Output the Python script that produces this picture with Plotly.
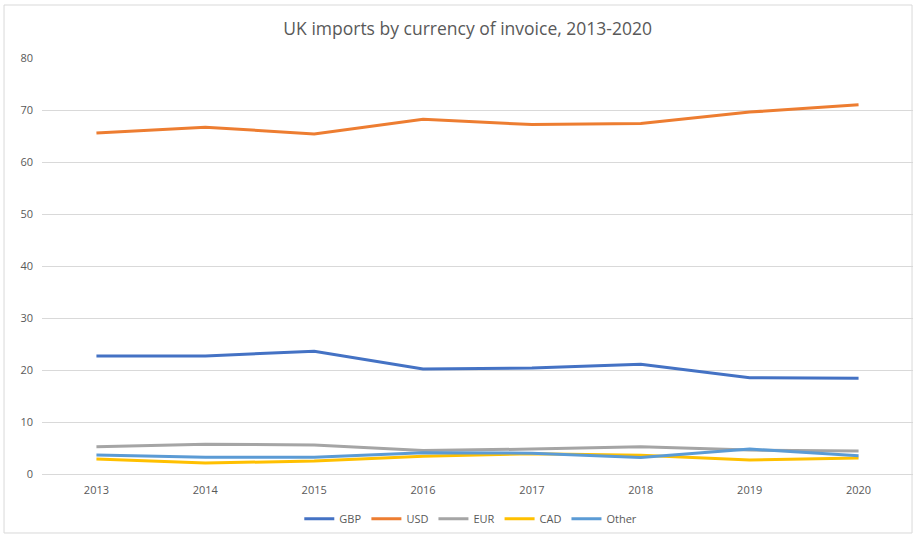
import plotly.graph_objects as go

years = ["2013", "2014", "2015", "2016", "2017", "2018", "2019", "2020"]
gbp = [22.7, 22.7, 23.6, 20.2, 20.4, 21.1, 18.5, 18.4]
usd = [65.6, 66.7, 65.4, 68.2, 67.2, 67.4, 69.6, 71.0]
eur = [5.25, 5.7, 5.6, 4.5, 4.8, 5.25, 4.6, 4.4]
cad = [2.9, 2.1, 2.5, 3.4, 3.9, 3.6, 2.7, 3.1]
other = [3.65, 3.2, 3.2, 4.1, 4.0, 3.15, 4.8, 3.5]

series = [
    ("GBP", gbp, "#4472C4"),
    ("USD", usd, "#ED7D31"),
    ("EUR", eur, "#A5A5A5"),
    ("CAD", cad, "#FFC000"),
    ("Other", other, "#5B9BD5"),
]

fig = go.Figure()
for name, vals, color in series:
    fig.add_trace(go.Scatter(x=years, y=vals, name=name, mode="lines",
                             line=dict(color=color, width=3)))

font_family = "Open Sans, Liberation Sans, sans-serif"
fig.update_layout(
    width=917, height=535,
    margin=dict(l=42, r=4, t=58, b=61, autoexpand=False),
    paper_bgcolor="white", plot_bgcolor="white",
    title=dict(text="UK imports by currency of invoice, 2013-2020",
               x=0.51, xanchor="center", xref="container", yref="container",
               y=0.946, yanchor="middle",
               font=dict(family=font_family, size=17.5, color="#595959")),
    xaxis=dict(type="category", range=[-0.5, 7.5], showgrid=False,
               showline=False, ticks="", zeroline=False, automargin=False,
               ticklabelstandoff=8,
               tickfont=dict(family=font_family, size=11, color="#595959")),
    yaxis=dict(range=[0, 80], dtick=10, showgrid=True, gridcolor="#D9D9D9",
               gridwidth=1, zeroline=True, zerolinecolor="#D9D9D9", zerolinewidth=1,
               showline=False, ticks="", ticklabelstandoff=8, automargin=False,
               tickfont=dict(family=font_family, size=11, color="#595959")),
    legend=dict(orientation="h", x=0.4923, xanchor="center", y=-0.073, yanchor="top",
                bgcolor="rgba(0,0,0,0)",
                font=dict(family=font_family, size=11, color="#595959"),
                itemwidth=30, tracegroupgap=0),
    showlegend=True,
    shapes=[dict(type="rect", xref="paper", yref="paper",
                 x0=-0.0436, x1=0.9989, y0=-0.1418, y1=1.1274,
                 line=dict(color="#D9D9D9", width=1), fillcolor="rgba(0,0,0,0)",
                 layer="below")],
)

fig.write_html("out.html", config={"displayModeBar": False},
               post_script="document.body.style.margin='0px';document.body.style.overflow='hidden';")
